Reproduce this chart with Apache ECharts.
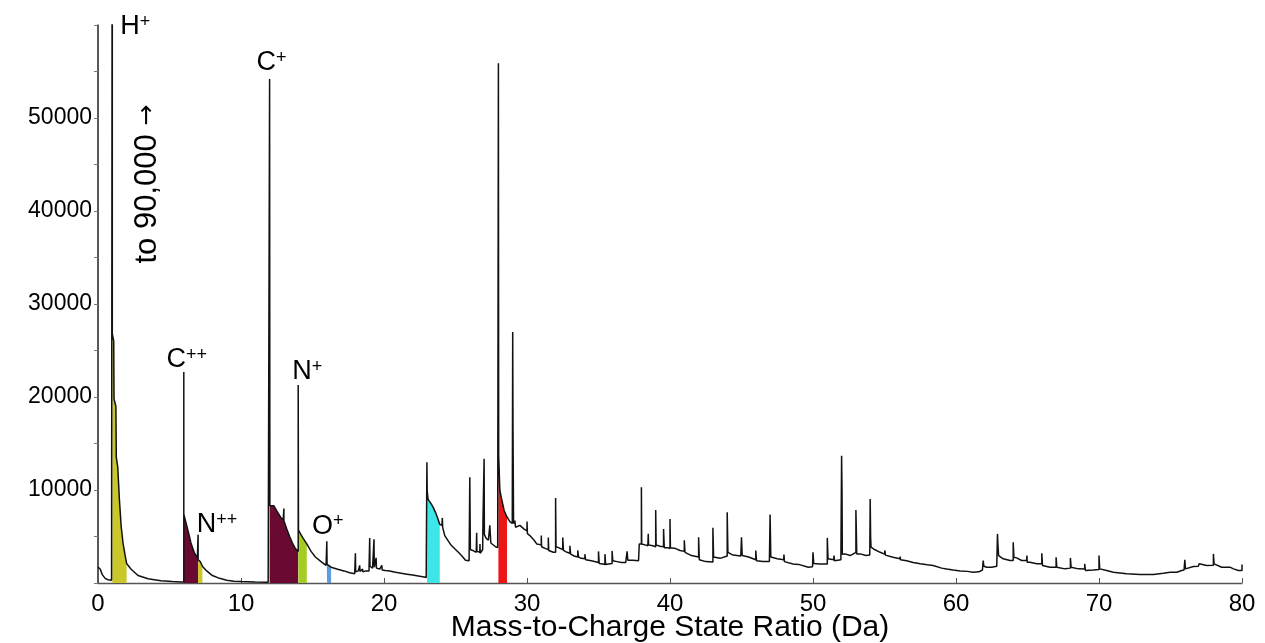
<!DOCTYPE html>
<html>
<head>
<meta charset="utf-8">
<script src="https://cdn.jsdelivr.net/npm/echarts@6/dist/echarts.min.js"></script>
<style>
html,body{margin:0;padding:0;background:#fff;}
#chart{width:1265px;height:643px;}
</style>
</head>
<body>
<div id="chart"></div>
<script>
// ---- data (mass-to-charge in Da, counts) ----
var spectrum = [
[0,1700],[0.15,1500],[0.3,900],[0.5,500],[0.7,350],[0.95,300],
[1.0,300],[1.0,90000],[1.0,26800],[1.1,26000],[1.12,19800],[1.25,19000],[1.28,13500],[1.38,12500],
[1.5,8900],[1.62,6100],[1.75,4300],[1.87,3200],[2.0,2100],[2.3,1500],[2.8,800],[3.5,450],[4.4,250],
[5.2,150],[5.8,120],[6.0,120],
[6.0,22700],[6.0,7400],[6.1,7300],[6.3,5600],[6.5,4300],[6.75,3200],[6.95,2700],[7.0,2600],
[7.0,5200],[7.0,2500],[7.15,2300],[7.3,1800],[7.6,1300],[8.0,800],[8.5,500],[9.0,300],[9.5,200],
[10.0,150],[11.0,100],[11.9,80],[12.0,80],
[12.0,54200],[12.02,8300],[12.3,8300],[12.4,8100],[12.6,7500],[12.8,7000],[12.95,6800],[13.0,8000],
[13.0,6700],[13.2,5800],[13.4,5000],[13.6,4300],[13.8,3700],[14.0,3400],
[14.0,21300],[14.02,5700],[14.15,5300],[14.35,4800],[14.6,4200],[14.9,3400],[15.2,2800],[15.6,2300],
[15.95,1900],[16.0,1900],[16.0,4500],[16.02,2000],[16.3,1700],[16.7,1500],[17.2,1300],[17.6,1100],
[17.95,1000],[18.0,1000],[18.0,3200],[18.02,1200],[18.2,1300],[18.3,1900],[18.32,1250],[18.5,1500],
[18.52,1200],[18.7,1300],[18.95,1300],[19.0,4850],[19.02,1800],[19.2,1600],[19.3,4700],[19.32,1700],
[19.45,2700],[19.47,1600],[19.7,1500],[19.85,1900],[19.87,1400],[20.1,1350],[20.4,1300],[20.8,1150],
[21.2,1050],[21.6,950],[22.0,850],[22.4,750],[22.8,650],[22.95,600],
[23.0,600],[23.0,12970],[23.02,9900],[23.08,9000],[23.3,8500],[23.45,8100],[23.6,7600],[23.75,7000],
[23.9,6300],[24.05,6200],[24.08,7000],[24.1,6000],[24.25,5100],[24.5,4500],[24.7,4050],[25.0,3600],
[25.2,3300],[25.45,2900],[25.7,2450],[25.95,2400],
[26.0,11360],[26.02,7400],[26.04,3600],[26.2,3500],[26.45,3300],[26.48,5400],[26.5,3400],[26.7,3300],
[26.71,4200],[26.73,3200],[26.9,3600],[26.92,6500],[27.0,6400],[27.0,13370],[27.02,5200],[27.15,4800],
[27.3,4600],[27.4,6200],[27.45,6200],[27.47,4300],[27.6,4100],[27.8,3900],[27.95,3800],
[28.0,3800],[28.0,55900],[28.02,13700],[28.05,13500],[28.1,10000],[28.2,9200],[28.4,7800],[28.6,7100],
[28.8,6600],[28.97,6400],[29.0,6400],[29.0,27000],[29.02,17100],[29.04,17000],[29.06,6400],[29.15,6700],
[29.2,6000],[29.5,6200],[29.8,5800],[30.0,5600],[30.0,6600],[30.03,5300],
[30.2,5100],[30.5,4600],[30.68,4200],[31.0,4100],[31.0,5100],[31.02,3900],[31.3,3700],[31.49,3600],
[31.49,4900],[31.52,3500],[31.84,3300],[32.0,3300],[32.0,9150],[32.03,3900],[32.2,3800],[32.5,3600],
[32.5,4900],[32.55,3500],[32.8,3300],[33.0,3200],[33.0,4000],[33.05,3100],[33.3,2900],[33.55,2800],
[33.55,3500],[33.6,2800],[33.8,2650],[34.05,2600],[34.05,3100],[34.1,2500],[34.5,2400],[35.0,2200],
[35.0,3400],[35.05,2100],[35.3,2050],[35.45,2000],[35.45,3100],[35.5,2000],[35.7,2050],[35.95,2100],
[35.95,3450],[36.0,2400],[36.3,2300],[36.6,2200],[36.9,2200],[37.0,3400],[37.05,2450],[37.4,2450],
[37.8,2400],[37.85,4200],[38.0,4200],[38.0,10290],[38.02,4200],[38.25,4100],[38.45,4000],[38.48,5300],
[38.5,4100],[38.8,4000],[39.0,3900],[39.0,7860],[39.03,4100],[39.3,3950],[39.55,3900],[39.55,5800],
[39.6,3800],[39.85,3800],[40.0,3700],[40.0,6890],[40.03,3800],[40.4,3700],[40.7,3500],[41.0,3400],
[41.0,4600],[41.05,3300],[41.5,2950],[42.0,2800],[42.0,4920],[42.05,2500],[42.5,2300],[43.0,2250],
[43.0,5930],[43.05,2800],[43.5,2650],[44.0,2900],[44.0,7610],[44.05,3300],[44.4,3000],[44.95,2900],
[45.0,4920],[45.05,2950],[45.5,2800],[46.0,2500],[46.0,3500],[46.05,2400],[46.5,2300],[46.95,2300],
[47.0,7360],[47.05,2800],[47.5,2600],[47.95,2500],[47.97,3060],[48.0,2300],[48.6,2050],[49.0,2000],
[49.02,2150],[49.05,1900],[49.67,1700],[49.97,1750],[50.0,3310],[50.05,2100],[50.45,2050],[50.5,2250],
[50.55,2000],[51.0,2050],[51.0,4850],[51.05,2600],[51.45,2500],[51.47,2950],[51.5,2400],[51.95,2500],
[52.0,2500],[52.0,13690],[52.03,9930],[52.05,3100],[52.24,3130],[52.6,2950],[53.0,3300],[53.0,7860],
[53.03,5640],[53.06,3130],[53.3,3130],[53.7,2950],[53.97,3000],[54.0,9040],[54.03,4920],[54.06,3850],
[54.3,3600],[54.7,3300],[55.0,3100],[55.03,3500],[55.06,3000],[55.6,2770],[56.08,2600],[56.1,2850],
[56.12,2500],[56.55,2400],[57.0,2200],[57.5,2060],[58.0,1950],[58.4,1880],[59.0,1600],[59.35,1500],
[59.8,1400],[60.3,1300],[60.8,1250],[61.2,1160],[61.6,1200],[61.85,1400],[61.9,2420],[61.95,1800],
[62.15,1700],[62.5,1700],[62.85,1800],[62.9,5280],[62.93,4210],[62.98,2950],[63.1,2800],
[63.3,2600],[63.78,2420],[64.0,2420],[64.0,4390],[64.05,2770],[64.24,2700],[64.59,2420],[64.94,2420],
[64.96,2950],[64.98,2240],[65.17,2240],[65.64,2060],[66.0,2060],[66.0,3200],[66.05,1880],[66.57,1700],
[67.0,1700],[67.0,2770],[67.05,1700],[67.62,1520],[68.0,1600],[68.0,2700],[68.05,1700],[68.56,1520],
[69.0,1500],[69.0,2060],[69.05,1340],[69.6,1400],[70.0,1450],[70.0,2950],[70.05,1520],[70.54,1340],
[71.0,1160],[71.94,990],[72.87,920],[73.8,920],[74.5,1060],[74.97,1160],[75.44,1160],[75.78,1340],
[75.95,1400],[76.0,2490],[76.05,1520],[76.6,1770],[76.95,1800],[77.0,2060],[77.05,1900],[77.53,1880],
[78.0,1900],[78.0,3130],[78.05,2060],[78.58,1700],[79.16,1700],[79.4,1520],[79.75,1340],[80.0,1340],
[80.0,1990]
];

// highlighted ranges (Da) under identified ion peaks
var fillStart = [1.0, 6.0, 7.0, 12.0, 14.0, 16.0, 23.0, 28.0];
var fillEnd   = [2.0, 7.0, 7.3, 14.0, 14.6, 16.3, 23.9, 28.6];
var fillColors = ['#c9c72a', '#6a0a33', '#c9c72a', '#6a0a33', '#a6cc22', '#5a9ee0', '#3fe6e8', '#ee1515'];

// ion labels
var ionSymbol = ['H', 'C', 'C', 'N', 'N', 'O'];
var ionCharge = ['+', '+', '++', '+', '++', '+'];
var ionMass   = [1, 12, 6, 14, 7, 16];
var ionPeak   = [90000, 54200, 22700, 21300, 5200, 4500];

var xTicks = [0, 10, 20, 30, 40, 50, 60, 70, 80];
var yTickLabels = [10000, 20000, 30000, 40000, 50000];

var xName = 'Mass-to-Charge State Ratio (Da)';
var offscaleNote = 'to 90,000';
var offscaleArrow = '\u2192';

// ---- chart ----
var FONT = '"Liberation Sans", Arial, sans-serif';
var chart = echarts.init(document.getElementById('chart'), null, {renderer: 'canvas'});

var Y_MAX = 60000;
var series = [];

for (var i = 0; i < fillStart.length; i++) {
  (function (a, b, c) {
    series.push({
      type: 'line',
      data: spectrum.filter(function (p) { return p[0] >= a && p[0] <= b; })
                    .map(function (p) { return [p[0], Math.min(p[1], Y_MAX)]; }),
      symbol: 'none',
      lineStyle: {width: 0, color: c},
      areaStyle: {color: c, opacity: 1},
      silent: true,
      z: 2,
      animation: false
    });
  })(fillStart[i], fillEnd[i], fillColors[i]);
}

series.push({
  type: 'line',
  data: spectrum,
  symbol: 'none',
  lineStyle: {width: 1.5, color: '#111'},
  clip: true,
  z: 5,
  animation: false
});

// label offsets (pixels) – styling only
var labelOffsets = [[5, 2], [2, 1], [3, 5], [9, 4], [19, 7], [1, 2]];
var labelPositions = ['right', 'top', 'top', 'top', 'top', 'top'];

series.push({
  type: 'scatter',
  symbolSize: 0,
  silent: true,
  z: 10,
  clip: false,
  animation: false,
  itemStyle: {opacity: 1},
  data: ionMass.map(function (m, k) {
    return {
      value: [m, Math.min(ionPeak[k], Y_MAX)],
      label: {
        show: true,
        position: labelPositions[k],
        offset: labelOffsets[k],
        distance: 3,
        color: '#000',
        opacity: 1,
        formatter: '{a|' + ionSymbol[k] + '}{s|' + ionCharge[k] + '}',
        rich: {
          a: {fontSize: 27, fontFamily: FONT, color: '#000', lineHeight: 28},
          s: {fontSize: 18, fontFamily: FONT, color: '#000', lineHeight: 18, verticalAlign: 'top'}
        }
      }
    };
  })
});

chart.setOption({
  backgroundColor: '#ffffff',
  animation: false,
  grid: {left: 98, right: 23, top: 25, bottom: 60, containLabel: false, outerBoundsMode: 'none'},
  xAxis: {
    type: 'value',
    min: xTicks[0],
    max: xTicks[xTicks.length - 1],
    interval: xTicks[1] - xTicks[0],
    name: xName,
    nameLocation: 'middle',
    nameGap: 30,
    nameMoveOverlap: false,
    nameTextStyle: {fontSize: 30, fontFamily: FONT, color: '#000'},
    axisLine: {show: true, lineStyle: {color: '#555', width: 1.3}},
    axisTick: {show: true, inside: true, length: 5, lineStyle: {color: '#555'}},
    axisLabel: {fontSize: 24, fontFamily: FONT, color: '#000', margin: 9},
    splitLine: {show: false}
  },
  yAxis: {
    type: 'value',
    min: 0,
    max: Y_MAX,
    interval: 5000,
    axisLine: {show: true, lineStyle: {color: '#222', width: 1.5}},
    axisTick: {show: true, inside: false, length: 4, lineStyle: {color: '#777'}},
    axisLabel: {
      fontSize: 23, fontFamily: FONT, color: '#000', margin: 6,
      formatter: function (v) { return yTickLabels.indexOf(v) >= 0 ? String(v) : ''; }
    },
    splitLine: {show: false}
  },
  series: series
});

// rotated "off-scale" note beside the H+ peak
var notePos = chart.convertToPixel({gridIndex: 0}, [ionMass[0], 43000]);
chart.setOption({
  graphic: [{
    type: 'text',
    x: notePos[0] + 35,
    y: notePos[1] + 1,
    rotation: Math.PI / 2,
    silent: true,
    style: {
      text: '{n|' + offscaleNote + ' }{a|' + offscaleArrow + '}',
      align: 'center',
      verticalAlign: 'middle',
      rich: {
        n: {fontSize: 31, fontFamily: FONT, fill: '#000', color: '#000'},
        a: {fontSize: 25, fontFamily: '"DejaVu Sans", sans-serif', fill: '#000', color: '#000'}
      }
    }
  }]
});
</script>
</body>
</html>
